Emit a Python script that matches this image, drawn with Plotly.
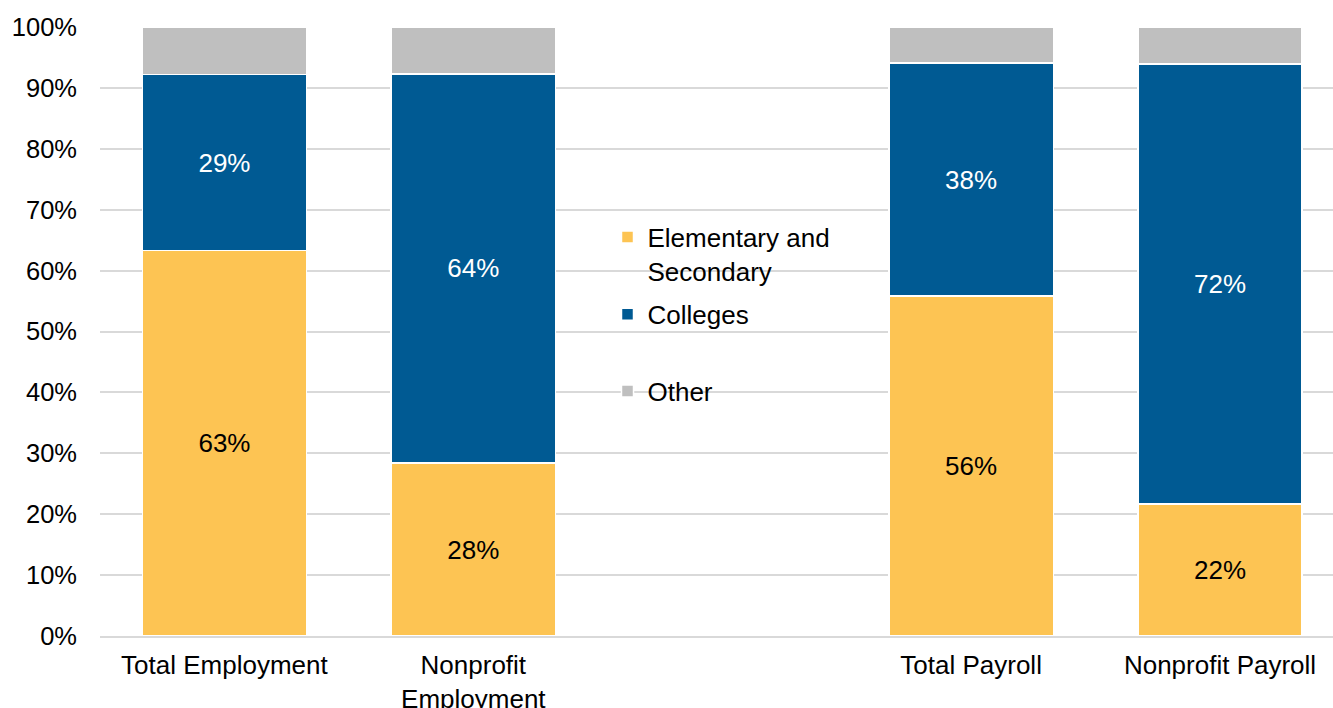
import plotly.graph_objects as go

# Category positions (slot 2 is left empty to separate employment and payroll)
categories = ["Total Employment", "Nonprofit<br>Employment", "Total Payroll", "Nonprofit Payroll"]
positions = [0, 1, 3, 4]

elementary = [63.3, 28.4, 55.8, 21.7]
colleges = [28.9, 63.9, 38.3, 72.2]
other = [7.8, 7.7, 5.9, 6.1]

y_ticks = [0, 10, 20, 30, 40, 50, 60, 70, 80, 90, 100]

FONT = "Liberation Sans, Arial, sans-serif"
YELLOW = "#FDC453"
BLUE = "#005A93"
GRAY = "#BFBFBF"
SIZE = 26

fig = go.Figure()

fig.add_trace(go.Bar(
    x=positions, y=elementary, name="Elementary and<br>Secondary",
    marker=dict(color=YELLOW, line=dict(color="white", width=1.5)),
    texttemplate="%{y:.0f}%", textposition="inside", insidetextanchor="middle",
    textfont=dict(color="black", size=SIZE, family=FONT),
    width=0.66, legend="legend",
))
fig.add_trace(go.Bar(
    x=positions, y=colleges, name="Colleges",
    marker=dict(color=BLUE, line=dict(color="white", width=1.5)),
    texttemplate="%{y:.0f}%", textposition="inside", insidetextanchor="middle",
    textfont=dict(color="white", size=SIZE, family=FONT),
    width=0.66, legend="legend2",
))
fig.add_trace(go.Bar(
    x=positions, y=other, name="Other",
    marker=dict(color=GRAY, line=dict(color="white", width=1.5)),
    texttemplate="", width=0.66, legend="legend3",
))

legend_common = dict(
    xanchor="left", yanchor="middle", bgcolor="rgba(0,0,0,0)", valign="top",
    font=dict(size=SIZE, family=FONT, color="black"),
)

fig.update_layout(
    width=1333, height=708,
    margin=dict(l=100, r=0, t=27, b=72, autoexpand=False),
    plot_bgcolor="white", paper_bgcolor="white",
    barmode="stack", uniformtext=dict(minsize=10, mode="show"),
    showlegend=True,
    font=dict(family=FONT, size=SIZE, color="black"),
    xaxis=dict(
        range=[-0.5, 4.454], tickmode="array", tickvals=positions, ticktext=categories,
        showgrid=False, showline=True, linecolor="#D9D9D9", linewidth=2,
        ticks="", ticklabelstandoff=5, automargin=False,
        tickfont=dict(size=SIZE, family=FONT, color="black"),
        fixedrange=True,
    ),
    yaxis=dict(
        range=[0, 100], tickmode="array", tickvals=y_ticks,
        ticktext=[f"{v}%" for v in y_ticks],
        showgrid=True, gridcolor="#D9D9D9", gridwidth=2, zeroline=False,
        ticks="", ticklabelstandoff=22, automargin=False,
        tickfont=dict(size=25.5, family=FONT, color="black"),
    ),
    legend=dict(x=0.4116, y=0.627, **legend_common),
    legend2=dict(x=0.4116, y=0.528, **legend_common),
    legend3=dict(x=0.4116, y=0.402, **legend_common),
)

fig.write_html("out.html")
